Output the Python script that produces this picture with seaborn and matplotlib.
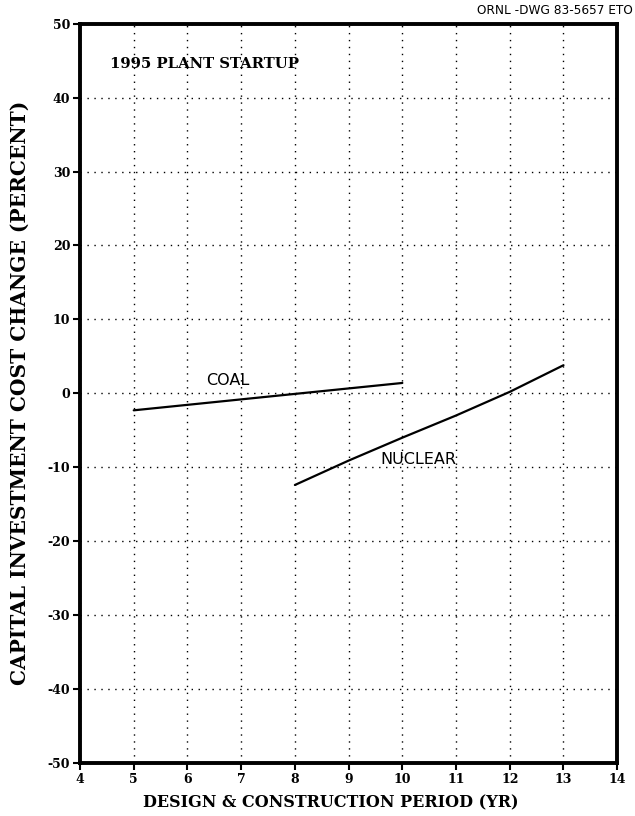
import numpy as np
import pandas as pd
import matplotlib
matplotlib.use("Agg")
import matplotlib.pyplot as plt
import seaborn as sns

# Data
coal_period = [5, 10]
coal_change = [-2.3, 1.4]
nuclear_period = [8, 9, 10, 11, 12, 13]
nuclear_change = [-12.4, -9.1, -6.0, -3.0, 0.2, 3.8]
x_ticks = [4, 5, 6, 7, 8, 9, 10, 11, 12, 13, 14]
y_ticks = [-50, -40, -30, -20, -10, 0, 10, 20, 30, 40, 50]

sns.set_style("ticks")
plt.rcParams['font.family'] = ['DejaVu Serif']
plt.rcParams['text.color'] = 'black'
plt.rcParams['axes.labelcolor'] = 'black'
plt.rcParams['xtick.color'] = 'black'
plt.rcParams['ytick.color'] = 'black'

df = pd.concat([
    pd.DataFrame({"period": coal_period, "change": coal_change, "plant": "COAL"}),
    pd.DataFrame({"period": nuclear_period, "change": nuclear_change, "plant": "NUCLEAR"}),
])

fig = plt.figure(figsize=(6.35, 8.16), dpi=100)
ax = fig.add_axes([0.126, 0.065, 0.846, 0.906])

sns.lineplot(data=df, x="period", y="change", units="plant", estimator=None,
             color="black", linewidth=1.6, ax=ax, legend=False)

ax.set_xlim(4, 14)
ax.set_ylim(-50, 50)
ax.set_xticks(x_ticks)
ax.set_yticks(y_ticks)
ax.set_xticklabels([str(t) for t in x_ticks], fontsize=9, fontweight='bold')
ax.set_yticklabels([str(t) for t in y_ticks], fontsize=9, fontweight='bold')
ax.tick_params(axis='both', direction='out', length=5, width=1.5, color='black', pad=2)

ax.grid(True, which='major', linestyle=(0, (1, 4)), color='black', linewidth=1.0)
for s in ax.spines.values():
    s.set_linewidth(2.8)
    s.set_color('black')

ax.set_xlabel("DESIGN & CONSTRUCTION PERIOD (YR)", fontsize=11.5, fontweight='bold')
ax.xaxis.set_label_coords(0.467, -0.043)
ax.set_ylabel("CAPITAL INVESTMENT COST CHANGE (PERCENT)", fontsize=14.5, fontweight='bold', labelpad=13)

ax.text(4.56, 44.5, "1995 PLANT STARTUP", fontsize=10.7, fontweight='bold', va='center', ha='left')
ax.text(6.75, 1.7, "COAL", family=['DejaVu Sans'], fontsize=11.5, va='center', ha='center')
ax.text(10.3, -9.0, "NUCLEAR", family=['DejaVu Sans'], fontsize=11.5, va='center', ha='center')

fig.text(0.997, 0.995, "ORNL -DWG 83-5657 ETO", family=['DejaVu Sans'], fontsize=8.7,
         ha='right', va='top')

fig.savefig("out.png", dpi=100)
